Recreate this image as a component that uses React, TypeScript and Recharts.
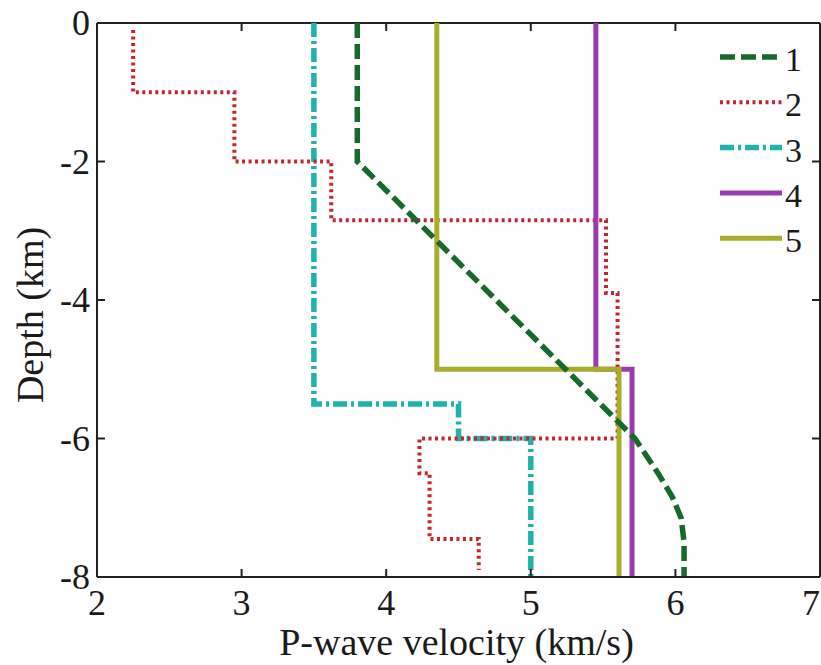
import React from "react";
import { LineChart, Line, XAxis, YAxis, ReferenceLine, Legend } from "recharts";

// ---- data ----
const xTicks = [2, 3, 4, 5, 6, 7];
const yTicks = [0, -2, -4, -6, -8];

const seriesNames = ["1", "2", "3", "4", "5"];

const velocity1 = [3.8, 3.8, 5.72, 5.88, 5.98, 6.04, 6.06, 6.06];
const depth1 = [0, -2, -6, -6.5, -6.85, -7.15, -7.5, -8];

const velocity2 = [2.25, 2.25, 2.95, 2.95, 3.62, 3.62, 5.52, 5.52, 5.6, 5.6, 4.23, 4.23, 4.3, 4.3, 4.64, 4.64];
const depth2 = [-0.1, -1, -1, -2, -2, -2.85, -2.85, -3.9, -3.9, -6, -6, -6.5, -6.5, -7.45, -7.45, -7.9];

const velocity3 = [3.5, 3.5, 4.5, 4.5, 5.0, 5.0];
const depth3 = [0, -5.5, -5.5, -6, -6, -8];

const velocity4 = [5.45, 5.45, 5.7, 5.7];
const depth4 = [0, -5, -5, -8];

const velocity5 = [4.35, 4.35, 5.61, 5.61];
const depth5 = [0, -5, -5, -8];

const toPoints = (v: number[], d: number[]) => v.map((x, i) => ({ v: x, d: d[i] }));

const data1 = toPoints(velocity1, depth1);
const data2 = toPoints(velocity2, depth2);
const data3 = toPoints(velocity3, depth3);
const data4 = toPoints(velocity4, depth4);
const data5 = toPoints(velocity5, depth5);

// ---- styles ----
const W = 821;
const H = 665;
const M_TOP = 23;
const M_RIGHT = 1;
const Y_AXIS_W = 97;
const X_AXIS_H = 88;
const PLOT_W = W - Y_AXIS_W - M_RIGHT;
const PLOT_H = H - M_TOP - X_AXIS_H;
const FONT = "'Liberation Serif', 'DejaVu Serif', 'Times New Roman', Times, serif";
const INK = "#1a1a1a";
const AXIS = "#222";
const TICK_LEN = 8;

const textStyle = { fontFamily: FONT };

const styles = [
  { color: "#17692c", width: 5.5, dash: "15 6" },
  { color: "#c2272d", width: 4, dash: "3 3.5" },
  { color: "#1fb3ac", width: 5.5, dash: "14 4 3 4" },
  { color: "#9a3bb0", width: 5, dash: undefined },
  { color: "#a9ad2c", width: 5, dash: undefined },
];

const XTick = (props: any) => {
  const { x, y, payload } = props;
  const isLast = payload.value === xTicks[xTicks.length - 1];
  return (
    <g>
      <line x1={x} x2={x} y1={y} y2={y - TICK_LEN} stroke={AXIS} strokeWidth={2} />
      <line x1={x} x2={x} y1={y - PLOT_H} y2={y - PLOT_H + TICK_LEN} stroke={AXIS} strokeWidth={2} />
      <text
        x={isLast ? x - 9 : x}
        y={y + 38}
        textAnchor="middle"
        style={textStyle}
        fontFamily={FONT}
        fontSize={36}
        fill={INK}
      >
        {payload.value}
      </text>
    </g>
  );
};

const YTick = (props: any) => {
  const { x, y, payload } = props;
  return (
    <g>
      <line x1={x} x2={x + TICK_LEN} y1={y} y2={y} stroke={AXIS} strokeWidth={2} />
      <line x1={x + PLOT_W} x2={x + PLOT_W - TICK_LEN} y1={y} y2={y} stroke={AXIS} strokeWidth={2} />
      <text x={x - 7} y={y + 12} textAnchor="end" style={textStyle} fontFamily={FONT} fontSize={36} fill={INK}>
        {payload.value}
      </text>
    </g>
  );
};

const LegendBox = () => {
  const rowGap = 45.3;
  return (
    <svg width={110} height={240} style={{ overflow: "visible" }}>
      {seriesNames.map((name, i) => {
        const s = styles[i];
        const cy = 27 + i * rowGap;
        return (
          <g key={name}>
            <line x1={10} x2={72} y1={cy} y2={cy} stroke={s.color} strokeWidth={s.width} strokeDasharray={s.dash} />
            <text x={75} y={cy + 14} style={textStyle} fontFamily={FONT} fontSize={34} fill={INK}>
              {name}
            </text>
          </g>
        );
      })}
    </svg>
  );
};

const YLabel = (props: any) => {
  const vb = props.viewBox || { x: 0, y: M_TOP, width: Y_AXIS_W, height: PLOT_H };
  const cx = vb.x + 43;
  const cy = vb.y + vb.height / 2 + 15;
  return (
    <text
      x={cx}
      y={cy}
      transform={`rotate(-90 ${cx} ${cy})`}
      textAnchor="middle"
      style={textStyle}
      fontFamily={FONT}
      fontSize={38}
      fill={INK}
    >
      Depth (km)
    </text>
  );
};

const XLabel = (props: any) => {
  const vb = props.viewBox || { x: Y_AXIS_W, y: M_TOP + PLOT_H, width: PLOT_W, height: X_AXIS_H };
  return (
    <text
      x={vb.x + vb.width / 2 - 2}
      y={vb.y + 78}
      textAnchor="middle"
      style={textStyle}
      fontFamily={FONT}
      fontSize={38}
      fill={INK}
    >
      P-wave velocity (km/s)
    </text>
  );
};

const lineOrder = [
  { data: data3, idx: 2 },
  { data: data2, idx: 1 },
  { data: data4, idx: 3 },
  { data: data5, idx: 4 },
  { data: data1, idx: 0 },
];

export default function App() {
  return (
    <div style={{ position: "absolute", left: 0, top: 0, width: W, height: H, background: "#fff" }}>
      <LineChart width={W} height={H} margin={{ top: M_TOP, right: M_RIGHT, bottom: 0, left: 0 }}>
        <XAxis
          dataKey="v"
          type="number"
          domain={[2, 7]}
          ticks={xTicks}
          allowDataOverflow
          height={X_AXIS_H}
          tickLine={false}
          tickSize={0}
          tickMargin={0}
          tick={<XTick />}
          interval={0}
          axisLine={{ stroke: AXIS, strokeWidth: 2 }}
          label={{ content: <XLabel /> }}
        />
        <YAxis
          type="number"
          domain={[-8, 0]}
          ticks={yTicks}
          allowDataOverflow
          width={Y_AXIS_W}
          tickLine={false}
          tickSize={0}
          tickMargin={0}
          tick={<YTick />}
          interval={0}
          axisLine={{ stroke: AXIS, strokeWidth: 2 }}
          label={{ content: <YLabel /> }}
        />
        <ReferenceLine y={0} stroke={AXIS} strokeWidth={2} />
        <ReferenceLine x={7} stroke={AXIS} strokeWidth={2} />
        {lineOrder.map(({ data, idx }) => (
          <Line
            key={idx}
            data={data}
            dataKey="d"
            name={seriesNames[idx]}
            type="linear"
            stroke={styles[idx].color}
            strokeWidth={styles[idx].width}
            strokeDasharray={styles[idx].dash}
            dot={false}
            activeDot={false}
            isAnimationActive={false}
          />
        ))}
        <Legend
          layout="vertical"
          align="center"
          verticalAlign="middle"
          content={<LegendBox />}
          wrapperStyle={{ position: "absolute", top: 30, left: 710, width: 110, height: 240 }}
        />
      </LineChart>
    </div>
  );
}
